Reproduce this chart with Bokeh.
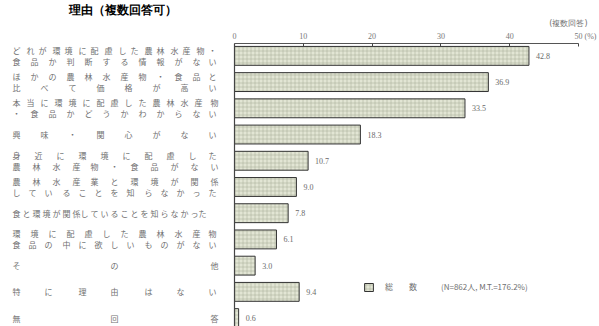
from bokeh.plotting import figure
from bokeh.models import (Range1d, LinearAxis, FixedTicker, Span, Title,
                          Legend, LegendItem, ColumnDataSource)
from bokeh.core.properties import value
from bokeh.embed import file_html
from bokeh.resources import INLINE

# ---------------- data ----------------
categories = [
    ["どれが環境に配慮した農林水産物・", "食品か判断する情報がない"],
    ["ほかの農林水産物・食品と", "比べて価格が高い"],
    ["本当に環境に配慮した農林水産物", "・食品かどうかわからない"],
    ["興味・関心がない"],
    ["身近に環境に配慮した", "農林水産物・食品がない"],
    ["農林水産業と環境が関係", "していることを知らなかった"],
    ["食と環境が関係していることを知らなかった"],
    ["環境に配慮した農林水産物", "食品の中に欲しいものがない"],
    ["その他"],
    ["特に理由はない"],
    ["無回答"],
]
values = [42.8, 36.9, 33.5, 18.3, 10.7, 9.0, 7.8, 6.1, 3.0, 9.4, 0.6]
ticks = [0, 10, 20, 30, 40, 50]
series_label = "総\u3000\u3000数"
note = "(N=862人, M.T.=176.2%)"
title_text = "理由（複数回答可）"
multi_note = "(複数回答)"
unit = "(%)"

# ---------------- layout constants (pixels) ----------------
W, H = 599, 326
TOP = 40            # height of the border above the frame (axis + notes)
X0 = 234            # pixel where value 0 sits
PXU = 6.88          # pixels per unit on the value axis
PITCH = 26.5        # pixels per category row
FIRST = 12.5        # centre of first row below frame top

def xdata(px):
    return (px - X0) / PXU

y_top = -FIRST / PITCH
y_bot = y_top + (H - TOP) / PITCH

# justify a line of CJK text across a width, using non-collapsing spaces
def justify(s, width_px, font_px):
    n = len(s)
    if n == 1:
        return s
    q = font_px / 4.0
    out = s[0]
    pos = font_px
    for i in range(1, n):
        target = i * (width_px - font_px) / (n - 1)
        g = max(0, int(round((target - pos) / q)))
        out += "\u3000" * (g // 4) + "\u2002" * ((g % 4) // 2) + "\u2005" * (g % 2)
        pos += g * q + font_px
        out += s[i]
    return out

FONT_PX = 8
label_texts = []
for lines in categories:
    w = 195 if len(lines[0]) >= 20 else 205
    label_texts.append("\n".join(justify(l, w, FONT_PX) for l in lines))

ys = list(range(len(values)))
src = ColumnDataSource(dict(
    y=ys, v=values, lab=label_texts,
    vt=["%.1f" % v for v in values],
))

p = figure(width=W, height=H, output_backend="svg", toolbar_location=None,
           x_range=Range1d(xdata(0), xdata(W)),
           y_range=Range1d(y_bot, y_top),
           x_axis_location=None, y_axis_location=None,
           min_border_left=0, min_border_right=0, min_border_bottom=0,
           min_border_top=TOP)
p.outline_line_color = None
p.grid.visible = False
p.background_fill_color = "white"

# top axis; the last tick label carries the unit, padded so "50" stays centred
ax = LinearAxis(ticker=FixedTicker(ticks=ticks), bounds=(ticks[0], ticks[-1]))
ax.major_label_overrides = {
    ticks[-1]: "\u2003\u2002\u2005" + str(ticks[-1]) + "\u2005" + unit
}
ax.axis_line_color = "#555555"
ax.axis_line_width = 1
ax.major_tick_in = 3
ax.major_tick_out = 0
ax.major_tick_line_color = "#444444"
ax.minor_tick_line_color = None
ax.major_label_standoff = 3
ax.major_label_text_font = "Liberation Serif"
ax.major_label_text_font_size = "8px"
ax.major_label_text_color = "#777777"
p.add_layout(ax, "above")

# notes above the axis
p.add_layout(Title(text=multi_note, align="right", offset=12, standoff=1,
                   text_font="DejaVu Sans", text_font_size="8px",
                   text_font_style="normal", text_color="#707070"), "above")
p.add_layout(Title(text=title_text, align="left", offset=68, standoff=0,
                   text_font="DejaVu Sans", text_font_size="12px",
                   text_font_style="bold", text_color="black"), "above")

# zero line
p.add_layout(Span(location=0, dimension="height", line_color="#444444", line_width=1.2))

bars = p.hbar(y="y", left=0, right="v", height=0.72, source=src,
              fill_color="#e2e5d4", line_color="#333333", line_width=1,
              hatch_pattern="+", hatch_scale=4, hatch_color="#a8ad98",
              hatch_weight=0.6, hatch_alpha=0.9)

# value labels
p.text(x="v", y="y", text="vt", source=src, x_offset=7,
       text_font=value("Liberation Serif"), text_font_size="8px",
       text_color="#6a6a6a", text_baseline="middle", text_align="left")

# category labels
p.text(x=xdata(12), y="y", text="lab", source=src,
       text_font=value("Noto Sans CJK JP"), text_font_size="%dpx" % FONT_PX,
       text_color="#707070", text_baseline="middle", text_align="left",
       text_line_height=1.0)

# legend
legend = Legend(items=[LegendItem(label=series_label + "\u3000\u3000\u3000" + note,
                                  renderers=[bars])],
                location=(363, 34), orientation="horizontal",
                glyph_width=11, glyph_height=10, label_standoff=11,
                padding=0, margin=0, border_line_alpha=0,
                background_fill_alpha=0,
                label_text_font="Noto Sans CJK JP",
                label_text_font_size="8px", label_text_color="#707070")
p.add_layout(legend, "center")

open("out.html", "w").write(file_html(p, INLINE))
